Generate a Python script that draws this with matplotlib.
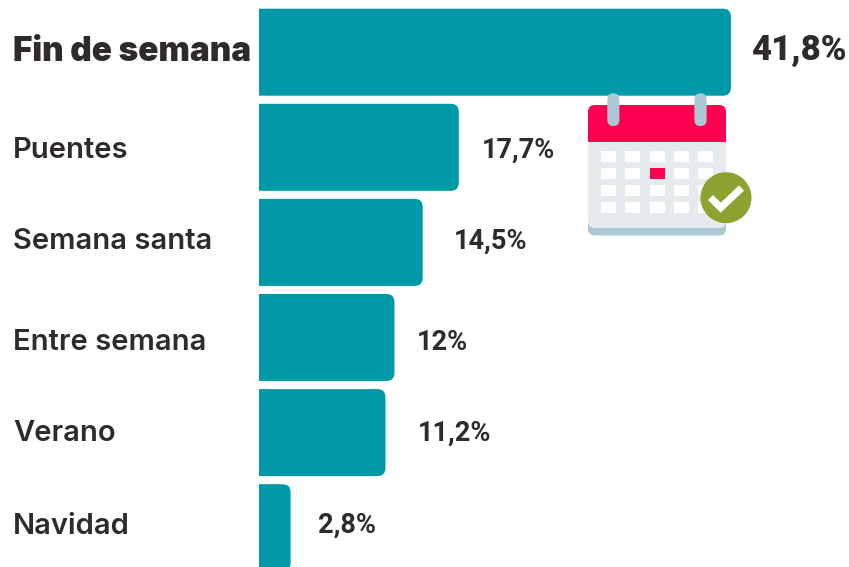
import matplotlib
matplotlib.use("Agg")
import matplotlib.pyplot as plt
from matplotlib.path import Path
from matplotlib.patches import PathPatch, Rectangle, FancyBboxPatch, Circle

categories = ["Fin de semana", "Puentes", "Semana santa", "Entre semana", "Verano", "Navidad"]
values = [41.8, 17.7, 14.5, 12.0, 11.2, 2.8]
value_labels = ["41,8%", "17,7%", "14,5%", "12%", "11,2%", "2,8%"]
label_gap_px = [20, 23, 31, 22, 32, 27]
baseline_shift_px = [8, 10, 6, 12, 8, 5]

W, H = 849, 567
PX_PER_UNIT = 11.29
ZERO_X = 259
PITCH = 95.1
FIRST_CENTER = 52.2
BAR_H = 87
TEAL = "#0099A8"
INK = "#2E2A2D"

plt.rcParams["font.family"] = ["Inter", "Noto Sans", "DejaVu Sans"]
fig = plt.figure(figsize=(W / 100, H / 100), dpi=100, facecolor="white")
ax = fig.add_axes([0, 0, 1, 1])
ax.set_xlim(-ZERO_X / PX_PER_UNIT, (W - ZERO_X) / PX_PER_UNIT)
ax.set_ylim((H - FIRST_CENTER) / PITCH, -FIRST_CENTER / PITCH)
ax.axis("off")


def bar_path(v, i, r=8):
    rx, ry = r / PX_PER_UNIT, r / PITCH
    h = BAR_H / PITCH / 2
    t, b = i - h, i + h
    verts = [(0, t), (v - rx, t), (v, t), (v, t + ry), (v, b - ry), (v, b), (v - rx, b), (0, b), (0, t)]
    codes = [Path.MOVETO, Path.LINETO, Path.CURVE3, Path.CURVE3, Path.LINETO,
             Path.CURVE3, Path.CURVE3, Path.LINETO, Path.CLOSEPOLY]
    return Path(verts, codes)


for i, (cat, v, lab, gap, shift) in enumerate(zip(categories, values, value_labels, label_gap_px, baseline_shift_px)):
    ax.add_patch(PathPatch(bar_path(v, i), facecolor=TEAL, edgecolor="none", zorder=2))
    y = i + shift / PITCH
    heavy = i == 0
    ax.text(13 / PX_PER_UNIT - ZERO_X / PX_PER_UNIT, y + 0.8 / PITCH, cat, ha="left", va="baseline",
            fontsize=24 if heavy else 21, fontweight="black" if heavy else "semibold", color=INK, zorder=3)
    ax.text(v + gap / PX_PER_UNIT, y, lab, ha="left", va="baseline", family=["Roboto", "DejaVu Sans"],
            fontsize=25 if heavy else 19.5, fontweight="black" if heavy else "bold", color=INK, zorder=3)

# calendar icon, drawn in pixel coordinates on an overlay
ic = fig.add_axes([0, 0, 1, 1], facecolor="none")
ic.set_xlim(0, W)
ic.set_ylim(H, 0)
ic.axis("off")
RED, PALE, STEEL, GREEN = "#FF0050", "#E5EAED", "#ABC8D4", "#8CA231"


def rbox(x0, y0, x1, y1, r, c, z):
    ic.add_patch(FancyBboxPatch((x0 + r, y0 + r), x1 - x0 - 2 * r, y1 - y0 - 2 * r,
                                boxstyle=f"round,pad={r},rounding_size={r}", fc=c, ec="none", zorder=z))


rbox(588, 190, 726, 235.5, 7, STEEL, 1)
rbox(588, 130, 726, 228, 7, PALE, 2)
rbox(588, 105, 726, 160, 7, RED, 3)
ic.add_patch(Rectangle((588, 142), 138, 22, fc=PALE, ec="none", zorder=4))
rbox(607.3, 93.3, 619.4, 126, 6, STEEL, 5)
rbox(694.4, 93.3, 706.6, 126, 6, STEEL, 5)
for r, (y0, y1) in enumerate([(151, 162), (168, 179), (185, 196), (202, 213)]):
    for c, (x0, x1) in enumerate([(601, 616), (625, 640), (650, 665), (674, 689), (698, 713)]):
        ic.add_patch(Rectangle((x0, y0), x1 - x0, y1 - y0, ec="none",
                               fc=RED if (r, c) == (1, 2) else "white", zorder=5))
ic.add_patch(Circle((726, 197.7), 25.5, fc=GREEN, ec="none", zorder=6))
ic.plot([710.5, 720.7, 741.5], [197.5, 207.7, 188], color="white", lw=5.2,
        solid_capstyle="butt", solid_joinstyle="miter", zorder=7)

fig.savefig("out.png", dpi=100)
